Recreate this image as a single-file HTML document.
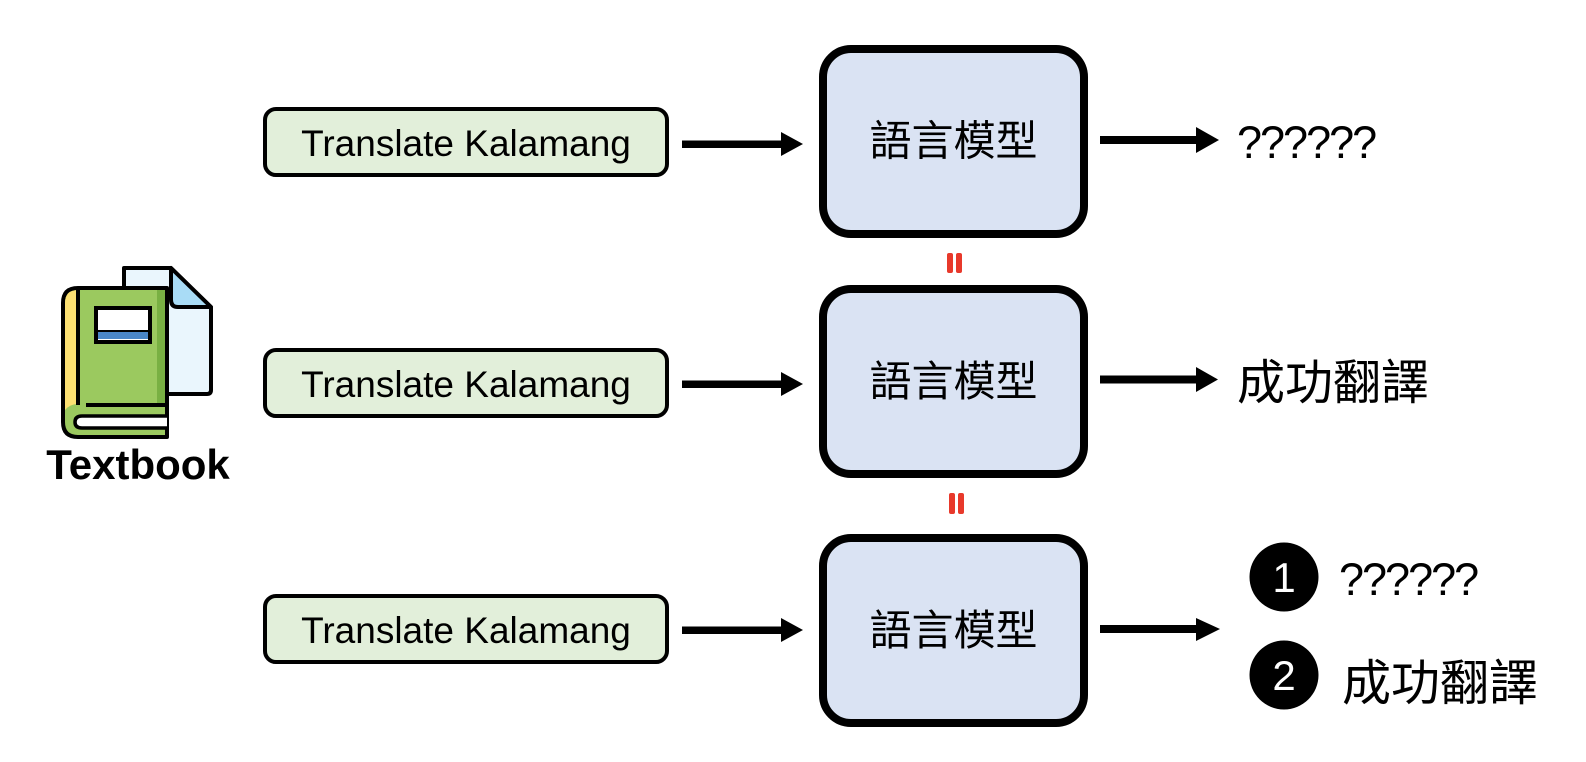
<!DOCTYPE html>
<html>
<head>
<meta charset="utf-8">
<style>
  html, body { margin: 0; padding: 0; background: #ffffff; }
  body { width: 1586px; height: 762px; overflow: hidden; }
  svg { display: block; }
  .lat { font-family: "Liberation Sans", "Noto Sans CJK TC", sans-serif; }
  .cjk { font-family: "Liberation Sans", "Noto Sans CJK TC", sans-serif; }
</style>
</head>
<body>
<svg width="1586" height="762" viewBox="0 0 1586 762" xmlns="http://www.w3.org/2000/svg">
  <rect x="0" y="0" width="1586" height="762" fill="#ffffff"/>

  <!-- ===== Textbook icon ===== -->
  <path d="M124 268 L171 268 L211 307 L211 390 Q211 394 207 394 L128 394 Q124 394 124 390 Z" fill="#eaf6fd" stroke="#000" stroke-width="4" stroke-linejoin="round"/>
  <path d="M171 268 L171 300 Q171 307 178 307 L211 307 Z" fill="#a9dcf6" stroke="#000" stroke-width="4" stroke-linejoin="round"/>
  <path d="M78 288 L167 288 L167 437 L78 437 Q63 437 63 422 L63 303 Q63 288 78 288 Z" fill="#9bc95f" stroke="#000" stroke-width="4" stroke-linejoin="round"/>
  <path d="M65 303 Q65 290 78 290 L78 404 Q70 404 65 410 Z" fill="#fce072"/>
  <line x1="78" y1="288" x2="78" y2="405" stroke="#000" stroke-width="4"/>
  <rect x="157" y="290" width="8" height="113" fill="#79b043"/>
  <line x1="86" y1="405" x2="167" y2="405" stroke="#000" stroke-width="4"/>
  <path d="M167 416 L82 416 Q75 416 75 422 Q75 428 82 428 L167 428" fill="#ffffff" stroke="#000" stroke-width="3.5"/>
  <rect x="96" y="308" width="54" height="34" fill="#ffffff" stroke="#000" stroke-width="4"/>
  <rect x="98" y="332" width="50" height="7" fill="#4a86c8"/>
  <line x1="96" y1="331" x2="150" y2="331" stroke="#000" stroke-width="2"/>
  <text x="138" y="479" text-anchor="middle" class="lat" font-size="42" font-weight="bold" fill="#000">Textbook</text>

  <!-- ===== Green input boxes ===== -->
  <rect x="265" y="109" width="402" height="66" rx="11" fill="#e2efda" stroke="#000" stroke-width="4"/>
  <text x="466" y="156" text-anchor="middle" class="lat" font-size="37" fill="#000">Translate Kalamang</text>

  <rect x="265" y="350" width="402" height="66" rx="11" fill="#e2efda" stroke="#000" stroke-width="4"/>
  <text x="466" y="397" text-anchor="middle" class="lat" font-size="37" fill="#000">Translate Kalamang</text>

  <rect x="265" y="596" width="402" height="66" rx="11" fill="#e2efda" stroke="#000" stroke-width="4"/>
  <text x="466" y="643" text-anchor="middle" class="lat" font-size="37" fill="#000">Translate Kalamang</text>

  <!-- ===== Left arrows ===== -->
  <g fill="#000">
    <rect x="682" y="140.5" width="102" height="7.5"/>
    <polygon points="781,132 803,144 781,156"/>
    <rect x="682" y="380.5" width="102" height="7.5"/>
    <polygon points="781,372 803,384 781,396"/>
    <rect x="682" y="626.5" width="102" height="7.5"/>
    <polygon points="781,618 803,630 781,642"/>
  </g>

  <!-- ===== Blue model boxes ===== -->
  <rect x="823" y="49" width="261" height="185" rx="28" fill="#dae3f3" stroke="#000" stroke-width="8"/>
  <text x="953.5" y="155.5" text-anchor="middle" class="cjk" font-size="42" fill="#000">語言模型</text>

  <rect x="823" y="289" width="261" height="185" rx="28" fill="#dae3f3" stroke="#000" stroke-width="8"/>
  <text x="953.5" y="396" text-anchor="middle" class="cjk" font-size="42" fill="#000">語言模型</text>

  <rect x="823" y="538" width="261" height="185" rx="28" fill="#dae3f3" stroke="#000" stroke-width="8"/>
  <text x="953.5" y="645" text-anchor="middle" class="cjk" font-size="42" fill="#000">語言模型</text>

  <!-- ===== Red equals (vertical) ===== -->
  <g fill="#e8392b">
    <rect x="947" y="253" width="6" height="20" rx="2"/>
    <rect x="956" y="253" width="6" height="20" rx="2"/>
    <rect x="949" y="493" width="6" height="21" rx="2"/>
    <rect x="958" y="493" width="6" height="21" rx="2"/>
  </g>

  <!-- ===== Right arrows ===== -->
  <g fill="#000">
    <rect x="1100" y="136" width="99" height="8"/>
    <polygon points="1196,127 1219,140 1196,153"/>
    <rect x="1100" y="375.5" width="99" height="8"/>
    <polygon points="1196,367 1218,379.5 1196,392"/>
    <rect x="1100" y="625" width="99" height="8"/>
    <polygon points="1196,618 1220,629 1196,641"/>
  </g>

  <!-- ===== Outputs ===== -->
  <text x="1237" y="158" class="lat" font-size="45" letter-spacing="-2" fill="#000">??????</text>
  <text x="1237" y="399" class="cjk" font-size="48" fill="#000">成功翻譯</text>

  <circle cx="1284" cy="577" r="34.5" fill="#000"/>
  <text x="1284" y="592" text-anchor="middle" class="lat" font-size="42" fill="#fff">1</text>
  <text x="1339" y="595" class="lat" font-size="45" letter-spacing="-2" fill="#000">??????</text>

  <circle cx="1284" cy="675" r="34.5" fill="#000"/>
  <text x="1284" y="690" text-anchor="middle" class="lat" font-size="42" fill="#fff">2</text>
  <text x="1342" y="700" class="cjk" font-size="49" fill="#000">成功翻譯</text>
</svg>
</body>
</html>
